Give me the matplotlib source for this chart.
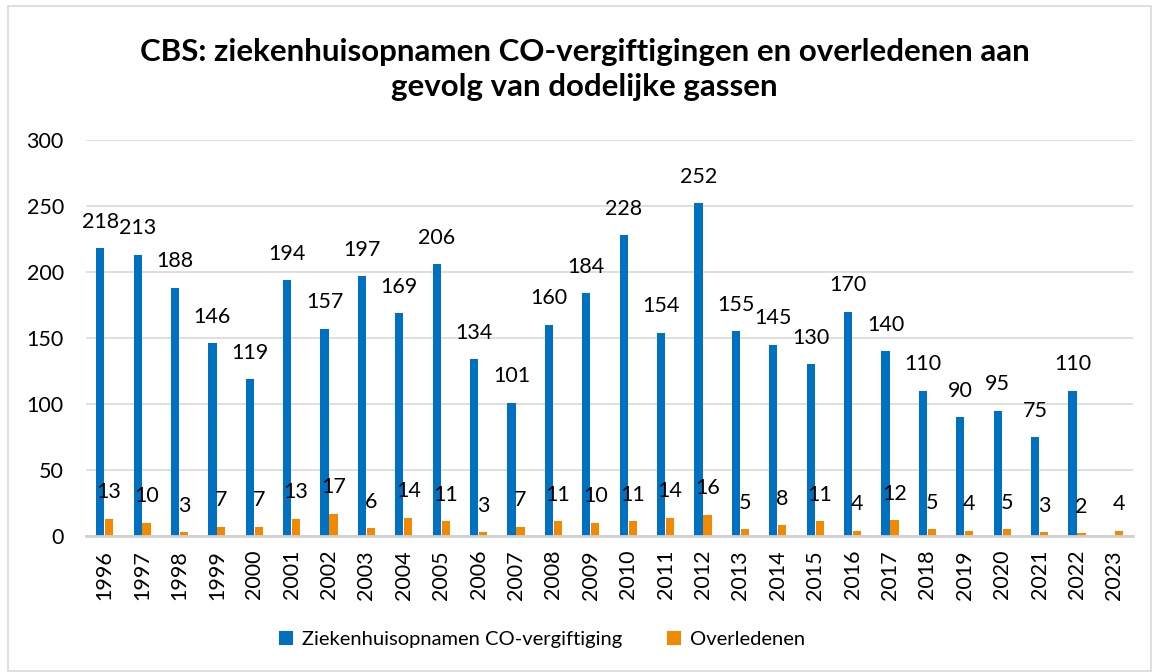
import numpy as np
import matplotlib.pyplot as plt
from matplotlib.patches import Rectangle

plt.rcParams['font.family'] = ['Lato', 'DejaVu Sans']

years = [str(y) for y in range(1996, 2024)]
opnamen = [218, 213, 188, 146, 119, 194, 157, 197, 169, 206, 134, 101, 160, 184,
           228, 154, 252, 155, 145, 130, 170, 140, 110, 90, 95, 75, 110, None]
overleden = [13, 10, 3, 7, 7, 13, 17, 6, 14, 11, 3, 7, 11, 10,
             11, 14, 16, 5, 8, 11, 4, 12, 5, 4, 5, 3, 2, 4]

blue = '#0070C0'
orange = '#F18A00'

fig = plt.figure(figsize=(11.53, 6.72), dpi=100)
ax = fig.add_axes([0.0746, 0.2024, 0.9081, 0.5893])

x = np.arange(len(years))
w = 0.22
op_vals = [v if v is not None else 0 for v in opnamen]
b1 = ax.bar(x - 0.12, op_vals, w, color=blue, label='Ziekenhuisopnamen CO-vergiftiging', zorder=3)
b2 = ax.bar(x + 0.12, overleden, w, color=orange, label='Overledenen', zorder=3)

# waardelabels boven de balken
for i, v in enumerate(opnamen):
    if v is not None:
        ax.annotate(str(v), (x[i] - 0.12, v), xytext=(0, 19), textcoords='offset points',
                    ha='center', va='center', fontsize=15.5)
for i, v in enumerate(overleden):
    ax.annotate(str(v), (x[i] + 0.12, v), xytext=(0, 19), textcoords='offset points',
                ha='center', va='center', fontsize=15.5)

ax.set_xlim(-0.5, len(years) - 0.5)
ax.set_ylim(0, 300)
ax.set_yticks(range(0, 301, 50))
ax.set_xticks(x)
ax.set_xticklabels(years, rotation=90)
ax.yaxis.grid(True, color='#D9D9D9', linewidth=1.2, zorder=0)
ax.tick_params(axis='y', length=0, pad=16, labelsize=15.5)
ax.tick_params(axis='x', length=0, pad=10, labelsize=15.5)
for s in ['top', 'right', 'left']:
    ax.spines[s].set_visible(False)
ax.spines['bottom'].set_color('#D0D0D0')
ax.spines['bottom'].set_linewidth(2)
ax.spines['bottom'].set_zorder(4)

fig.text(0.507, 0.897, 'CBS: ziekenhuisopnamen CO-vergiftigingen en overledenen aan\ngevolg van dodelijke gassen',
         ha='center', va='center', fontsize=22.5, fontweight='bold', linespacing=1.32)

fig.legend(handles=[b1, b2], loc='center', bbox_to_anchor=(0.47, 0.048), ncol=2,
           frameon=False, fontsize=14.5, handlelength=0.7, handleheight=0.7,
           columnspacing=2.2, handletextpad=0.45)

fig.patches.append(Rectangle((8 / 1153, 1 / 672), 1143 / 1153, 665 / 672, transform=fig.transFigure,
                             fill=False, edgecolor='#D9D9D9', linewidth=1.2))

fig.savefig('out.png', dpi=100)
